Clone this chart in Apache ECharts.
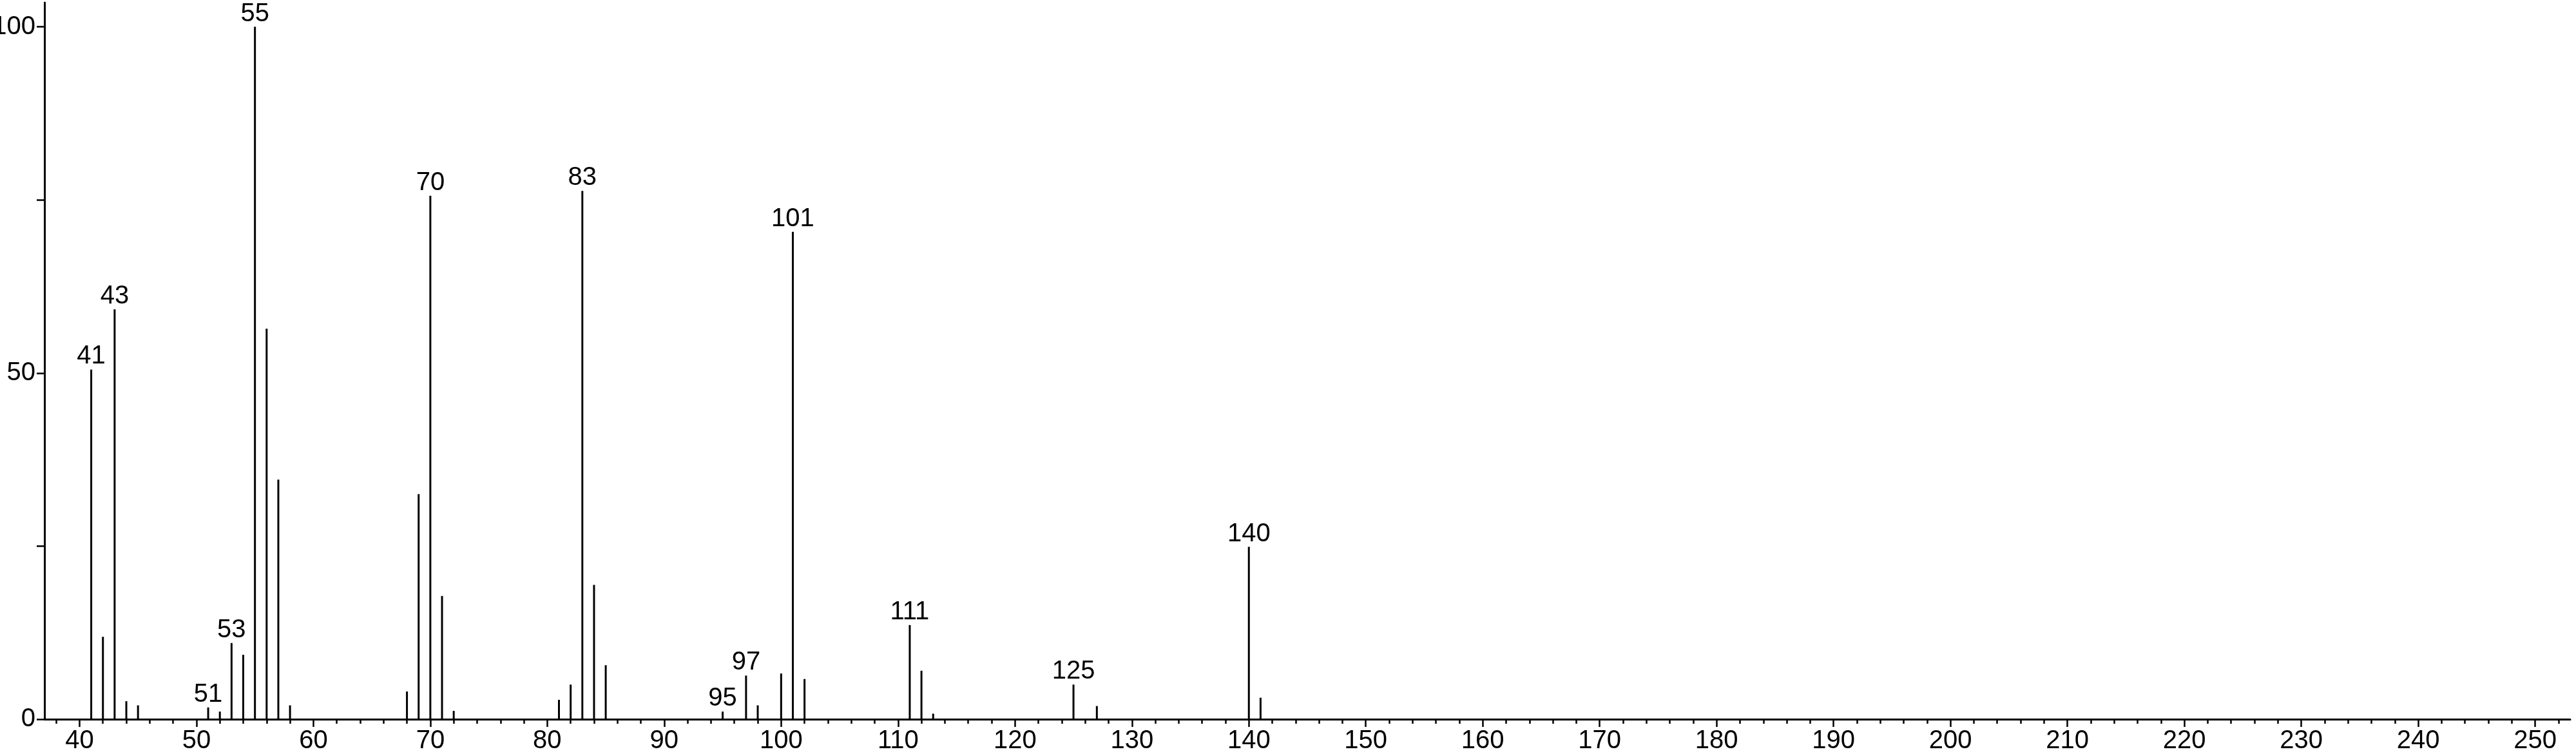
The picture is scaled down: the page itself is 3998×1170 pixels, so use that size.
<!DOCTYPE html>
<html>
<head>
<meta charset="utf-8">
<script src="https://cdn.jsdelivr.net/npm/echarts@6/dist/echarts.min.js"></script>
<style>
  html, body { margin: 0; padding: 0; background: #fff; }
  #chart { width: 3998px; height: 1170px; }
</style>
</head>
<body>
<div id="chart"></div>
<script>
// m/z values of the peaks
const mz = [41, 42, 43, 44, 45, 51, 52, 53, 54, 55, 56, 57, 58,
            68, 69, 70, 71, 72, 81, 82, 83, 84, 85,
            95, 97, 98, 100, 101, 102, 111, 112, 113, 125, 127, 140, 141];
// relative intensities (%)
const intensity = [50.5, 11.9, 59.2, 2.6, 2.0, 1.7, 1.1, 11.0, 9.3, 100, 56.4, 34.6, 2.0,
                   4.0, 32.5, 75.6, 17.8, 1.2, 2.8, 5.0, 76.3, 19.4, 7.8,
                   1.1, 6.3, 2.0, 6.6, 70.4, 5.8, 13.6, 7.0, 0.8, 5.0, 1.9, 24.9, 3.1];
// peaks that carry an m/z label
const labeledPeaks = [41, 43, 51, 53, 55, 70, 83, 95, 97, 101, 111, 125, 140];
// axis ticks
const xTickLabels = [40, 50, 60, 70, 80, 90, 100, 110, 120, 130, 140, 150, 160,
                     170, 180, 190, 200, 210, 220, 230, 240, 250];
const yTicks = [0, 25, 50, 75, 100];
const yTickLabels = [0, 50, 100];

const FONT = '"Liberation Sans", Arial, Helvetica, sans-serif';

const data = mz.map((m, i) => ({
  value: [m, intensity[i]],
  label: { show: labeledPeaks.includes(m) }
}));

const chart = echarts.init(document.getElementById('chart'), null, { renderer: 'canvas' });
chart.setOption({
  animation: false,
  backgroundColor: '#ffffff',
  grid: { left: 69, right: 9, top: 4, bottom: 54, containLabel: false, outerBoundsMode: 'none' },
  xAxis: {
    type: 'value',
    min: 37,
    max: 253,
    splitNumber: 21,
    minInterval: 10,
    maxInterval: 10,
    axisLine: { show: true, onZero: false, lineStyle: { color: '#000', width: 3 } },
    axisTick: { show: true, length: 12, customValues: xTickLabels, lineStyle: { color: '#000', width: 2.5 } },
    minorTick: { show: true, splitNumber: 5, length: 7, lineStyle: { color: '#000', width: 2.5 } },
    axisLabel: { show: true, customValues: xTickLabels, margin: 14, color: '#000', fontSize: 40, fontFamily: FONT },
    splitLine: { show: false },
    minorSplitLine: { show: false }
  },
  yAxis: {
    type: 'value',
    min: 0,
    max: 103.5,
    axisLine: { show: true, lineStyle: { color: '#000', width: 3 } },
    axisTick: { show: true, length: 12, customValues: yTicks, lineStyle: { color: '#000', width: 2.5 } },
    axisLabel: { show: true, customValues: yTickLabels, margin: 14, color: '#000', fontSize: 40, fontFamily: FONT },
    splitLine: { show: false }
  },
  series: [{
    type: 'bar',
    data: data,
    barWidth: 3,
    itemStyle: { color: '#000' },
    label: {
      position: 'top',
      distance: 0,
      color: '#000',
      fontSize: 40,
      fontFamily: FONT,
      formatter: p => String(p.value[0])
    }
  }]
});
</script>
</body>
</html>
